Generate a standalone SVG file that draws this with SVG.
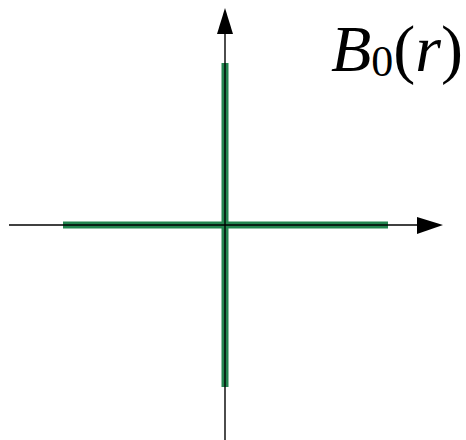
<svg xmlns="http://www.w3.org/2000/svg" width="466" height="440" viewBox="0 0 466 440">
<style>
.green{stroke:#23854f;stroke-width:7;fill:none}
.axis{stroke:#000;stroke-width:1.4;fill:none}
.lbl{font-family:"Liberation Serif","DejaVu Serif",serif;fill:#000}
</style>
<rect width="466" height="440" fill="#fff"/>
<g id="function">
<line class="green" x1="225" y1="63" x2="225" y2="387"/>
<line class="green" x1="63" y1="225" x2="388" y2="225"/>
</g>
<g id="connectors">
<line class="axis" x1="225" y1="440" x2="225" y2="30"/>
<polygon points="225,8 217,34 233,34" fill="#000"/>
<line class="axis" x1="9" y1="225" x2="420" y2="225"/>
<polygon points="443,225 417,217 417,234" fill="#000"/>
</g>
<g id="label">
<text class="lbl" x="331" y="71" font-size="66"><tspan font-style="italic">B</tspan><tspan font-size="44" y="76">0</tspan><tspan y="71">(</tspan><tspan font-style="italic">r</tspan><tspan>)</tspan></text>
</g>
</svg>
